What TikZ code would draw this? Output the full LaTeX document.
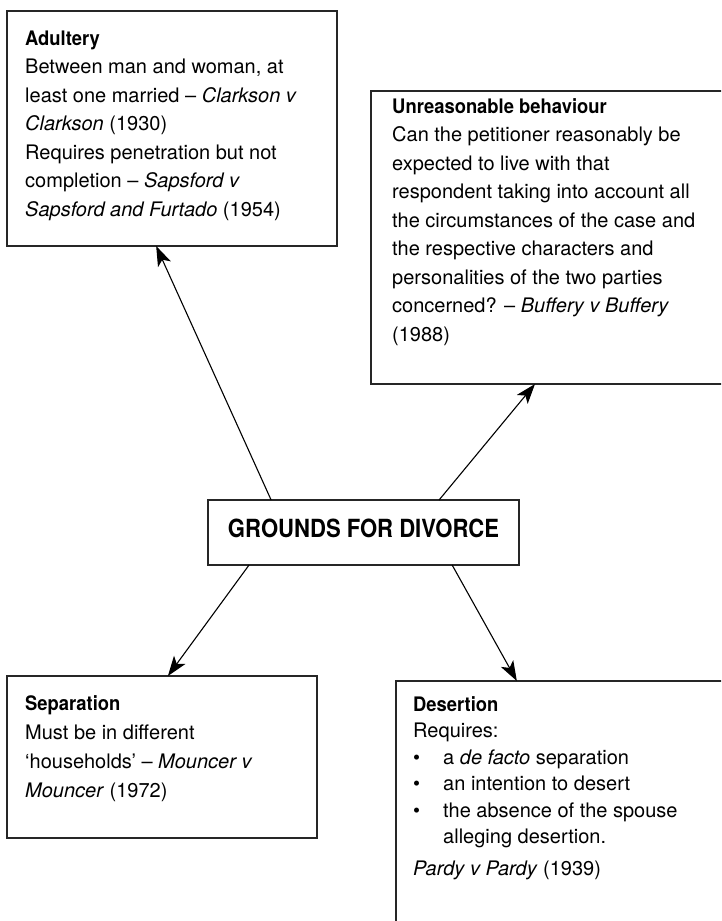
\documentclass[tikz,border=0pt]{standalone}
\usepackage{fontspec}
\setmainfont{TeX Gyre Heros}
\newfontfamily\headfont{texgyreheros-bold.otf}[FakeStretch=0.92]
\newcommand\headline[1]{{\headfont #1}}
\usetikzlibrary{arrows.meta,calc}
\begin{document}
\begin{tikzpicture}[x=1pt,y=-1pt,
  box/.style={draw=black!85, line width=1.4pt, rectangle, inner sep=0pt, outer sep=0pt, anchor=north west},
  txt/.style={inner sep=0pt, anchor=base west, font=\fontsize{20}{28.5}\selectfont},
  link/.style={line width=1.1pt, -{Stealth[length=20pt,width=14pt,inset=5pt]}}
]
\useasboundingbox (0,0) rectangle (721,921);
\clip (0,0) rectangle (721,921);

% frames
\node[box, minimum width=330pt, minimum height=235pt] (adult) at (7,11) {};
\node[box, minimum width=389pt, minimum height=293pt] (unreas) at (371,91) {};
\node[box, minimum width=311pt, minimum height=65pt] (ctr) at (208,500) {};
\node[box, minimum width=310pt, minimum height=162pt] (separ) at (7,676) {};
\node[box, minimum width=364pt, minimum height=279pt] (desert) at (396,681) {};

% central title
\node[inner sep=0pt, anchor=base, font=\fontsize{25}{30}\selectfont] (ctrtext) at (363.5,537)
  {\headline{\scalebox{0.96}[1]{GROUNDS FOR DIVORCE}}};

% box texts
\node[txt] (adulttext) at (25,45) {\parbox[t]{305pt}{%
  \headline{Adultery}\\
  Between man and woman, at\\
  least one married – \textit{Clarkson v}\\
  \textit{Clarkson} (1930)\\
  Requires penetration but not\\
  completion – \textit{Sapsford v}\\
  \textit{Sapsford and Furtado} (1954)}};

\node[txt] (unreastext) at (392,113) {\parbox[t]{325pt}{%
  \headline{Unreasonable behaviour}\\
  Can the petitioner reasonably be\\
  expected to live with that\\
  respondent taking into account all\\
  the circumstances of the case and\\
  the respective characters and\\
  personalities of the two parties\\
  concerned? – \textit{Buffery v Buffery}\\
  (1988)}};

\node[txt, font=\fontsize{20}{29}\selectfont] (separtext) at (25,710) {\parbox[t]{285pt}{%
  \headline{Separation}\\
  Must be in different\\
  ‘households’ – \textit{Mouncer v}\\
  \textit{Mouncer} (1972)}};

\node[txt, font=\fontsize{20}{26.5}\selectfont] (deserttext) at (413,711) {\parbox[t]{305pt}{%
  \headline{Desertion}\\
  Requires:\\
  \makebox[30pt][l]{\textbullet}a \textit{de facto} separation\\
  \makebox[30pt][l]{\textbullet}an intention to desert\\
  \makebox[30pt][l]{\textbullet}the absence of the spouse\\
  \hspace*{30pt}alleging desertion.\\[5.5pt]
  \textit{Pardy v Pardy} (1939)}};

% connectors
\draw[link] ($(ctr.north west)!0.203!(ctr.north east)$) -- ($(adult.south west)!0.452!(adult.south east)$);
\draw[link] ($(ctr.north west)!0.743!(ctr.north east)$) -- ($(unreas.south west)!0.4216!(unreas.south east)$);
\draw[link] ($(ctr.south west)!0.132!(ctr.south east)$) -- ($(separ.north west)!0.519!(separ.north east)$);
\draw[link] ($(ctr.south west)!0.785!(ctr.south east)$) -- ($(desert.north west)!0.332!(desert.north east)$);
\end{tikzpicture}
\end{document}
